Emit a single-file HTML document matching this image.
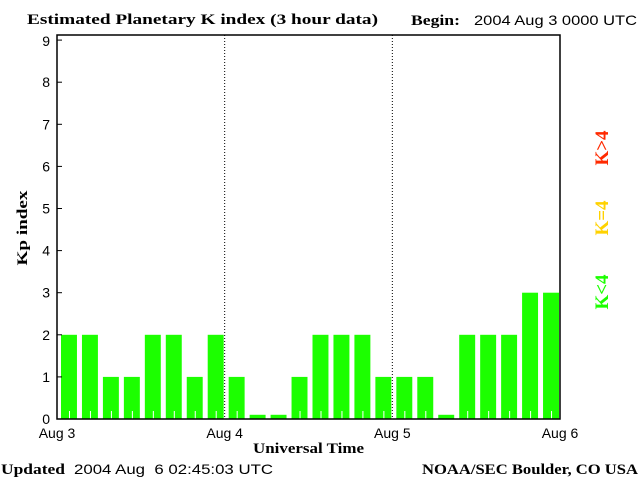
<!DOCTYPE html>
<html><head><meta charset="utf-8"><style>
html,body{margin:0;padding:0;background:#fff;}
svg{display:block;}
.s{font-family:"Liberation Sans",sans-serif;font-size:14px;}
.b{font-family:"Liberation Serif",serif;font-size:15px;font-weight:bold;}
</style></head><body>
<svg id="chart" width="640" height="480" viewBox="0 0 640 480" xmlns="http://www.w3.org/2000/svg">
<text x="27" y="24" class="b" textLength="351" lengthAdjust="spacingAndGlyphs">Estimated Planetary K index (3 hour data)</text>
<text x="411" y="25" class="b" textLength="49" lengthAdjust="spacingAndGlyphs">Begin:</text>
<text x="474" y="25" class="s" textLength="163" lengthAdjust="spacingAndGlyphs">2004 Aug 3 0000 UTC</text>
<g id="bars"></g>
<g id="axes"></g>
<text x="0" y="0" class="b" transform="translate(27,228) rotate(-90)" text-anchor="middle" textLength="75" lengthAdjust="spacingAndGlyphs">Kp index</text>
<text x="253" y="453" class="b" textLength="111" lengthAdjust="spacingAndGlyphs">Universal Time</text>
<text x="1" y="474" class="b" textLength="64" lengthAdjust="spacingAndGlyphs">Updated</text>
<text x="74" y="474" class="s" textLength="199" lengthAdjust="spacingAndGlyphs" xml:space="preserve">2004 Aug  6 02:45:03 UTC</text>
<text x="422" y="474" class="b" textLength="216" lengthAdjust="spacingAndGlyphs">NOAA/SEC Boulder, CO USA</text>
<text transform="translate(608,148) rotate(-90)" text-anchor="middle" class="b" style="font-size:19px" fill="#ff2a00">K&gt;4</text>
<text transform="translate(608,218) rotate(-90)" text-anchor="middle" class="b" style="font-size:19px" fill="#ffd200">K=4</text>
<text transform="translate(608,292) rotate(-90)" text-anchor="middle" class="b" style="font-size:19px" fill="#1cff00">K&lt;4</text>
</svg>
<script>
const kpValues = [2,2,1,1,2,2,1,2, 1,0,0,1,2,2,2,1, 1,1,0,2,2,2,3,3];
const yTicks = [0,1,2,3,4,5,6,7,8,9];
const dayLabels = ["Aug 3","Aug 4","Aug 5","Aug 6"];
const NS="http://www.w3.org/2000/svg";
const X0=57,X1=560,Y0=419,UNIT=42.1,TOP=35;
const slot=(X1-X0)/24;
function xs(i){return X0+i*slot;}
function ys(v){return Y0-v*UNIT;}
function mk(t,a,p){const e=document.createElementNS(NS,t);for(const k in a)e.setAttribute(k,a[k]);p.appendChild(e);return e;}
const bars=document.getElementById('bars'),axes=document.getElementById('axes');
kpValues.forEach((v,i)=>{
  const h=Math.max(v,0.1);
  const c=v>4?'#ff2a00':(v===4?'#ffd200':'#1cff00');
  const r=mk('rect',{x:xs(i)+4,y:ys(h),width:slot-5,height:Y0-ys(h),fill:c},bars);
  
  
  if(v>0){const t=mk('line',{x1:xs(i)+12.5,x2:xs(i)+12.5,y1:Y0-8,y2:Y0,stroke:'#fff','stroke-width':1},bars);
  
  }
});
const f=mk('rect',{x:X0,y:TOP,width:X1-X0,height:Y0-TOP,fill:'none',stroke:'#000','stroke-width':1.5},axes);


yTicks.forEach(v=>{
  const y=ys(v);
  const l=mk('line',{x1:X0,x2:X0+5,y1:y,y2:y,stroke:'#000'},axes);
  
  
  const t=mk('text',{x:50,y:Math.max(y+5,46),'text-anchor':'end',class:'s'},axes);
  t.textContent=v;
  
  
});
dayLabels.forEach((d,i)=>{
  const x=X0+i*8*slot;
  if(i>0&&i<3){const l=mk('line',{x1:x,x2:x,y1:TOP,y2:Y0,stroke:'#000','stroke-dasharray':'1,2'},axes);
  
  }
  const t=mk('text',{x:x,y:438,'text-anchor':'middle',class:'s'},axes);
  t.textContent=d;
  
  
});
</script>
</body></html>
